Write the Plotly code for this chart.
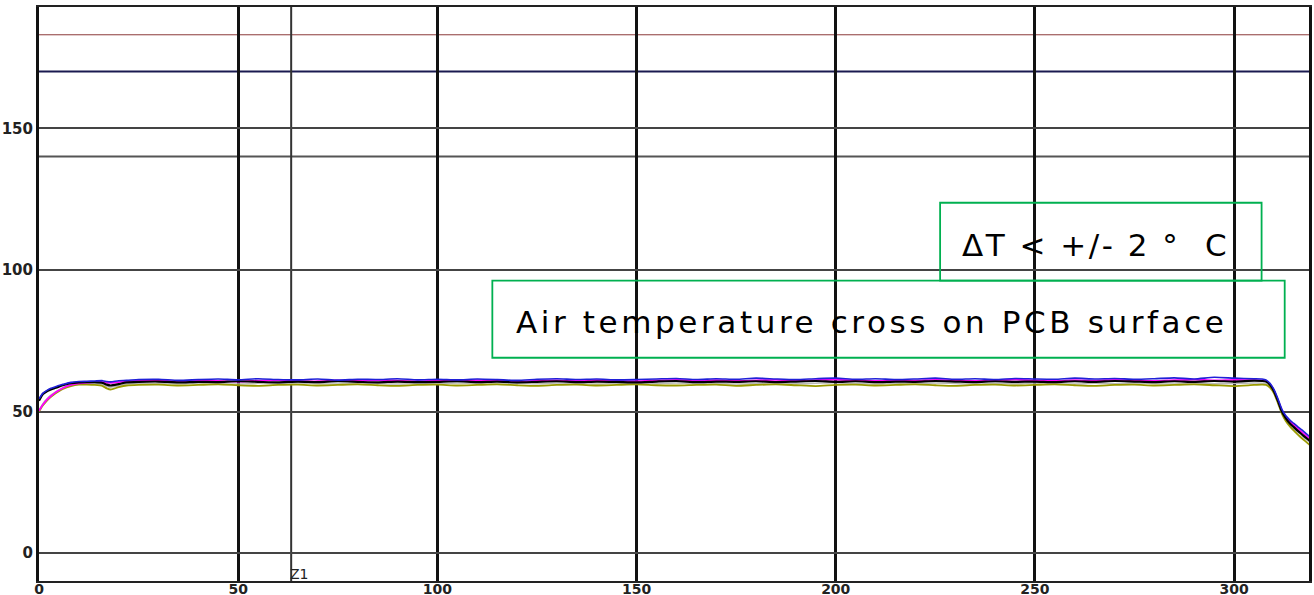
import plotly.graph_objects as go

# ---- data ----
x_start = [0, 1, 2, 3, 4, 5, 6, 8, 10, 12, 14, 16, 17, 18, 20, 22, 25]
x_mid = [30, 35, 40, 45, 50, 55, 60, 65, 70, 75, 80, 85, 90, 95, 100, 105, 110, 115, 120, 125,
         130, 135, 140, 145, 150, 155, 160, 165, 170, 175, 180, 185, 190, 195, 200, 205, 210,
         215, 220, 225, 230, 235, 240, 245, 250, 255, 260, 265, 270, 275, 280, 285, 290, 295,
         300, 305]
x_end = [307, 308, 309, 310, 311, 312, 313, 314, 315, 316, 317, 318, 319]
time_s = x_start + x_mid + x_end

blue = ([54.5, 56.5, 57.5, 58.2, 58.7, 59.2, 59.6, 60.3, 60.6, 60.7, 60.8, 60.9, 60.6, 60.5, 60.9, 61.0, 61.3]
        + [61.4, 61.0, 61.3, 61.5, 61.2, 61.6, 61.3, 61.2, 61.5, 61.1, 61.4, 61.3, 61.6, 61.2, 61.4, 61.2,
           61.5, 61.3, 61.0, 61.4, 61.6, 61.3, 61.5, 61.2, 61.3, 61.5, 61.7, 61.3, 61.6, 61.4, 61.8, 61.5,
           61.3, 61.6, 61.8, 61.4, 61.6, 61.3, 61.5, 61.8, 61.4, 61.6, 61.3, 61.7, 61.5, 61.4, 61.8, 61.5,
           61.7, 61.4, 61.6, 61.9, 61.5, 62.1, 61.8, 61.6]
        + [61.5, 61.2, 60.0, 57.8, 54.5, 50.8, 48.5, 47.0, 45.8, 44.6, 43.5, 42.3, 41.2])
black = ([53.8, 56.2, 57.2, 57.8, 58.3, 58.8, 59.3, 60.0, 60.3, 60.4, 60.4, 60.1, 59.5, 59.2, 59.7, 60.3, 60.5]
         + [60.6, 60.3, 60.5, 60.4, 60.7, 60.5, 60.3, 60.6, 60.4, 60.7, 60.5, 60.3, 60.6, 60.4, 60.5, 60.7,
            60.4, 60.6, 60.3, 60.5, 60.7, 60.4, 60.6, 60.5, 60.3, 60.6, 60.8, 60.4, 60.6, 60.5, 60.7, 60.4,
            60.6, 60.8, 60.5, 60.7, 60.4, 60.6, 60.5, 60.8, 60.6, 60.4, 60.7, 60.5, 60.6, 60.4, 60.7, 60.5,
            60.8, 60.6, 60.4, 60.7, 60.5, 60.8, 60.6, 60.9]
         + [60.8, 60.6, 59.5, 57.2, 53.8, 50.0, 47.6, 45.8, 44.5, 43.2, 42.0, 40.8, 39.7])
magenta = ([50.3, 52.5, 54.2, 55.5, 56.6, 57.5, 58.3, 59.4, 60.0, 60.2, 60.4, 60.4, 60.2, 60.1, 60.4, 60.7, 60.9]
           + [60.9, 60.7, 61.0, 60.8, 60.6, 60.9, 61.1, 60.8, 60.7, 61.0, 60.8, 61.1, 60.9, 60.7, 61.0, 60.8,
              61.1, 60.9, 60.6, 60.9, 61.0, 60.8, 61.1, 60.9, 60.7, 61.0, 61.2, 60.9, 61.1, 60.8, 61.0, 61.2,
              60.9, 61.1, 61.3, 61.0, 60.8, 61.1, 60.9, 61.2, 61.0, 60.8, 61.1, 61.3, 61.0, 60.8, 61.1, 60.9,
              61.2, 61.0, 60.8, 61.1, 61.3, 61.0, 61.2, 61.1]
           + [61.0, 60.8, 59.7, 57.5, 54.0, 50.4, 48.0, 46.5, 45.2, 44.0, 42.8, 41.6, 40.5])
gray = ([50.5, 52.8, 54.5, 55.8, 56.8, 57.6, 58.3, 59.2, 59.7, 59.8, 59.9, 59.5, 58.9, 58.6, 59.1, 59.7, 59.9]
        + [60.0, 59.8, 60.1, 59.9, 59.7, 60.0, 59.8, 60.1, 59.9, 59.7, 60.0, 59.9, 59.7, 60.0, 59.8, 60.1,
           59.9, 59.7, 60.0, 59.8, 60.1, 59.9, 59.7, 60.0, 59.8, 59.9, 60.1, 59.8, 60.0, 59.7, 59.9, 60.1,
           59.8, 60.0, 60.2, 59.9, 59.7, 60.0, 59.8, 60.1, 59.9, 59.7, 60.0, 59.8, 60.1, 59.9, 59.7, 60.0,
           59.8, 60.1, 59.9, 59.7, 60.0, 59.8, 59.9, 60.1]
        + [60.0, 59.9, 58.9, 56.8, 53.4, 49.6, 47.1, 45.4, 44.0, 42.8, 41.5, 40.3, 39.2])
olive = ([50.0, 52.2, 53.9, 55.2, 56.3, 57.2, 58.0, 59.0, 59.5, 59.5, 59.4, 59.0, 58.2, 57.8, 58.6, 59.2, 59.4]
         + [59.5, 59.2, 59.4, 59.6, 59.3, 59.1, 59.4, 59.5, 59.2, 59.4, 59.6, 59.3, 59.1, 59.4, 59.5, 59.2,
            59.4, 59.6, 59.3, 59.1, 59.4, 59.5, 59.2, 59.4, 59.6, 59.3, 59.2, 59.4, 59.5, 59.1, 59.4, 59.6,
            59.3, 59.0, 59.4, 59.5, 59.2, 59.4, 59.6, 59.3, 59.1, 59.4, 59.5, 59.2, 59.4, 59.6, 59.3, 59.1,
            59.4, 59.5, 59.2, 59.4, 59.6, 59.3, 59.0, 59.4]
         + [59.5, 59.4, 58.5, 56.4, 53.0, 49.2, 46.6, 44.8, 43.3, 41.9, 40.6, 39.4, 38.2])

x_ticks = [0, 50, 100, 150, 200, 250, 300]
y_ticks = [0, 50, 100, 150]
limit_lines = [140, 170, 183]
limit_colors = ["#555555", "#1a1a50", "#8b3a3a"]
limit_widths = [2, 2, 1]
z1_time = 63.3
label_dt = "ΔT < +/- 2 °\u00a0\u00a0C"
label_air = "Air temperature cross on PCB surface"

series = [
    ("gray", gray, "#b8b8b8", 1.5),
    ("olive", olive, "#9a9a00", 1.8),
    ("magenta", magenta, "#ff00ff", 1.8),
    ("black", black, "#000000", 2.2),
    ("blue", blue, "#2020d8", 1.6),
]

fig = go.Figure()
for name, ys, col, w in series:
    fig.add_trace(go.Scatter(x=time_s, y=ys, mode="lines", name=name,
                             line=dict(color=col, width=w, shape="spline", smoothing=0.6),
                             showlegend=False, hoverinfo="skip"))

for val, col, w in zip(limit_lines, limit_colors, limit_widths):
    fig.add_shape(type="line", xref="paper", x0=0, x1=1, yref="y", y0=val, y1=val,
                  line=dict(color=col, width=w), layer="below")

fig.add_shape(type="line", xref="x", x0=z1_time, x1=z1_time, yref="paper", y0=0, y1=1,
              line=dict(color="#333333", width=2), layer="below")

# annotation boxes
fig.add_shape(type="rect", x0=226.2, x1=306.9, y0=96.2, y1=123.7,
              line=dict(color="#00b050", width=1.8), layer="above")
fig.add_shape(type="rect", x0=113.8, x1=312.7, y0=69.0, y1=96.2,
              line=dict(color="#00b050", width=1.8), layer="above")

fig.add_annotation(x=265.3, y=108.9,
                   text='<span style="letter-spacing:2.5px">' + label_dt + '</span>',
                   showarrow=False,
                   font=dict(family="DejaVu Sans, sans-serif", size=31, color="#000000"))
fig.add_annotation(x=209.1, y=81.7,
                   text='<span style="letter-spacing:3.6px">' + label_air + '</span>',
                   showarrow=False,
                   font=dict(family="DejaVu Sans, sans-serif", size=31, color="#000000"))
fig.add_annotation(x=z1_time, y=-7.5, text="Z1", showarrow=False, xanchor="left", xshift=-3,
                   font=dict(family="DejaVu Sans, sans-serif", size=14, color="#222222"))

tick_font = dict(family="DejaVu Sans, sans-serif", size=15, color="#222222", weight="bold")
xtick_font = dict(family="DejaVu Sans, sans-serif", size=14, color="#222222", weight="bold")

fig.update_layout(
    width=1314, height=595,
    margin=dict(l=39, r=5, t=7, b=14, autoexpand=False),
    paper_bgcolor="white", plot_bgcolor="white",
    xaxis=dict(range=[0, 318.8], tickvals=x_ticks, showgrid=True, gridcolor="#111111", gridwidth=3,
               zeroline=False, showline=True, linecolor="#222222", linewidth=2, mirror=True,
               ticks="", automargin=False, ticklabelstandoff=-6, tickfont=xtick_font),
    yaxis=dict(range=[-9.8, 192.8], tickvals=y_ticks, showgrid=True, gridcolor="#444444", gridwidth=1.8,
               zeroline=False, showline=True, linecolor="#111111", linewidth=3, mirror=True,
               ticks="", automargin=False, ticklabelstandoff=0, tickfont=tick_font),
)

fig.write_html("out.html", config={"displayModeBar": False},
               post_script="document.body.style.margin='0';document.body.style.padding='0';"
                           "document.body.style.overflow='hidden';")
